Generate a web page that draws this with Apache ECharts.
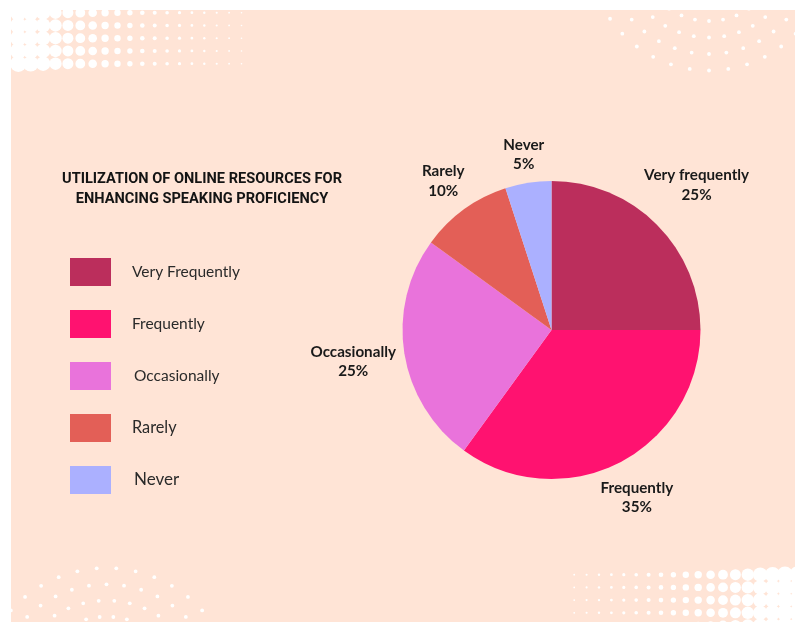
<!DOCTYPE html>
<html>
<head>
<meta charset="utf-8">
<script src="https://cdn.jsdelivr.net/npm/echarts@6/dist/echarts.min.js"></script>
<style>
  html, body { margin: 0; padding: 0; background: #ffffff; }
  #chart { width: 795px; height: 622px; }
</style>
</head>
<body>
<div id="chart"></div>
<script>
// Response categories as named in the legend
const categories = ['Very Frequently', 'Frequently', 'Occasionally', 'Rarely', 'Never'];
// Wording used beside each slice
const sliceLabels = ['Very frequently', 'Frequently', 'Occasionally', 'Rarely', 'Never'];
// Share of respondents (%)
const shares = [25, 35, 25, 10, 5];
const colors = ['#BB2E5C', '#FF1270', '#E973DB', '#E35F57', '#ABB0FF'];
const titleLines = ['UTILIZATION OF ONLINE RESOURCES FOR', 'ENHANCING SPEAKING PROFICIENCY'];

// Legend entries are typed by hand, so they differ slightly in size and offset
const legendFontSizes = [15.5, 15.5, 15.5, 16.3, 17];
const legendShiftUp = [0, 0, 4, 3, 3];
const legendIndent = [16, 16, 18, 16, 18];

// Pie geometry
const CX = 551.5, CY = 330, RADIUS = 149, LABEL_GAP = 7;
const total = shares.reduce((a, b) => a + b, 0);

// Place each two-line label just outside the rim, along the slice's mid-angle
function placeLabel(p) {
  const i = p.dataIndex;
  let before = 0;
  for (let k = 0; k < i; k++) before += shares[k];
  const mid = (90 - 360 * (before + shares[i] / 2) / total) * Math.PI / 180;
  const ux = Math.cos(mid), uy = -Math.sin(mid);
  const hw = p.labelRect.width / 2, hh = p.labelRect.height / 2;
  let lo = 0, hi = 500;
  for (let n = 0; n < 40; n++) {
    const t = (lo + hi) / 2;
    const dx = Math.max(Math.abs(t * ux) - hw, 0);
    const dy = Math.max(Math.abs(t * uy) - hh, 0);
    if (Math.hypot(dx, dy) < RADIUS + LABEL_GAP) lo = t; else hi = t;
  }
  return { x: CX + lo * ux, y: CY + lo * uy, align: 'center', verticalAlign: 'middle' };
}

// ---- Decorative backdrop: peach card with halftone dots ----
const deco = [];
deco.push({ type: 'rect', silent: true, z: -10,
  shape: { x: 11, y: 10, width: 784, height: 612 }, style: { fill: '#FFE4D6' } });

function dot(x, y, r) {
  deco.push({ type: 'circle', silent: true, z: -5,
    shape: { cx: x, cy: y, r: r }, style: { fill: '#ffffff' } });
}

// dot radius per halftone column, from the dense edge inwards
const halftoneRadii = [8.2, 7.8, 7.2, 6.2, 5.5, 4.9, 4.3, 3.7, 3.2, 2.7, 2.3, 2.0, 1.8, 1.6, 1.4, 1.2, 1.05, 0.9, 0.8];

// top-left block
for (let i = 0; i < halftoneRadii.length; i++) {
  for (let k = 0; k < 5; k++) dot(18.3 + 12.4 * i, 12.7 + 12.75 * k, halftoneRadii[i]);
}
// bottom-right block (mirrored)
for (let j = -1; j < 18; j++) {
  const r = halftoneRadii[Math.max(j, 0)];
  for (let k = 0; k < 5; k++) dot(785 - 12.4 * j, 574.7 + 12.7 * k, r);
}

// concentric dot arcs
function arcs(cx, cy, rings, dir) {
  rings.forEach(ring => {
    for (let s = -8; s <= 8; s++) {
      const a = (ring.offset + s * ring.step) * Math.PI / 180;
      if (Math.abs(a) > 1.2) continue;
      dot(cx + ring.r * Math.sin(a), cy + dir * ring.r * Math.cos(a), 1.9);
    }
  });
}
// top-right fan (centre above the card)
arcs(709, -50, [
  { r: 71, step: 11.4, offset: 0 },
  { r: 87.5, step: 10, offset: 0 },
  { r: 104, step: 9.6, offset: 0 },
  { r: 120.5, step: 9.2, offset: 0 }
], 1);
// bottom-left fan (centre below the card)
arcs(106.5, 697, [
  { r: 80.3, step: 9.8, offset: 4.9 },
  { r: 96.5, step: 9.3, offset: 4.65 },
  { r: 112.7, step: 8.95, offset: 0 },
  { r: 129, step: 8.7, offset: 4.35 }
], -1);

const chart = echarts.init(document.getElementById('chart'), null, { renderer: 'canvas' });
chart.setOption({
  animation: false,
  backgroundColor: '#ffffff',
  color: colors,
  graphic: { elements: deco },
  title: {
    text: titleLines.join('\n'),
    left: 202,
    top: 169,
    padding: 0,
    textAlign: 'center',
    textStyle: {
      fontFamily: 'Roboto',
      fontWeight: 'bold',
      fontSize: 14.6,
      lineHeight: 20,
      color: '#141414'
    }
  },
  legend: {
    orient: 'vertical',
    left: 70,
    top: 258,
    padding: 0,
    icon: 'rect',
    itemWidth: 41,
    itemHeight: 28,
    itemGap: 24,
    selectedMode: false,
    data: categories.map((name, i) => ({
      name: name,
      textStyle: {
        fontSize: legendFontSizes[i],
        padding: [-legendShiftUp[i] * 2, 0, 0, legendIndent[i]]
      }
    })),
    textStyle: {
      fontFamily: 'Lato',
      fontSize: 15.5,
      color: '#2a2a2a',
      padding: [0, 0, 0, 16]
    }
  },
  series: [{
    type: 'pie',
    center: [CX, CY],
    radius: RADIUS,
    startAngle: 90,
    clockwise: true,
    avoidLabelOverlap: false,
    itemStyle: { borderWidth: 0 },
    emphasis: { disabled: true },
    label: {
      show: true,
      position: 'outside',
      formatter: p => sliceLabels[p.dataIndex] + '\n' + p.value + '%',
      fontFamily: 'Lato',
      fontWeight: 'bold',
      fontSize: 15.2,
      lineHeight: 19.5,
      color: '#1a1a1a'
    },
    labelLine: { show: false },
    labelLayout: placeLabel,
    data: categories.map((name, i) => ({ name: name, value: shares[i] }))
  }]
});
</script>
</body>
</html>
